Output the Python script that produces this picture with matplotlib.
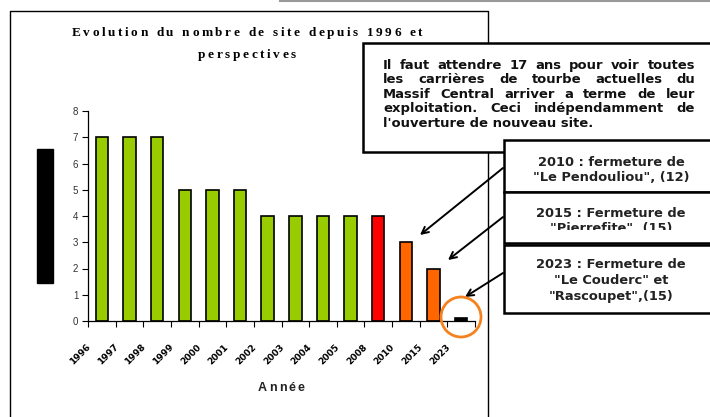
import matplotlib
matplotlib.use('Agg')
import matplotlib.pyplot as plt
from matplotlib.patches import Rectangle, Circle
from matplotlib.transforms import IdentityTransform

# data
years = ['1996', '1997', '1998', '1999', '2000', '2001', '2002',
         '2003', '2004', '2005', '2008', '2010', '2015', '2023']
sites = [7, 7, 7, 5, 5, 5, 4, 4, 4, 4, 4, 3, 2, 0.1]
bar_colors = ['#99cc00'] * 10 + ['#ff0000', '#ff6600', '#ff6600', '#000000']

note = ["Il faut attendre 17 ans pour voir toutes",
        "les carrières de tourbe actuelles du",
        "Massif Central arriver a terme de leur",
        "exploitation. Ceci indépendamment de",
        "l'ouverture de nouveau site."]
closures = [["2010 : fermeture de", "\"Le Pendouliou\", (12)"],
            ["2015 : Fermeture de", "\"Pierrefite\", (15)"],
            ["2023 : Fermeture de", "\"Le Couderc\" et", "\"Rascoupet\",(15)"]]

W, H = 710, 417
fig = plt.figure(figsize=(W / 100, H / 100), dpi=100)
r = fig.canvas.get_renderer()

# overlay in pixel coordinates for frames, notes and arrows
over = fig.add_axes([0, 0, 1, 1], zorder=3)
over.set_xlim(0, W)
over.set_ylim(H, 0)
over.axis('off')


def width_of(s, **kw):
    t = over.text(0, 0, s, **kw)
    w = t.get_window_extent(r).width
    t.remove()
    return w


def spaced(xc, y, s, track, **kw):
    # draw text char by char with extra letter spacing, centred on xc
    ws = []
    for ch in s:
        if ch == ' ':
            ws.append(width_of('a a', **kw) - width_of('aa', **kw))
        else:
            ws.append(width_of(ch, **kw))
    total = sum(ws) + track * (len(s) - 1)
    xx = xc - total / 2
    for ch, w in zip(s, ws):
        if ch != ' ':
            over.text(xx, y, ch, ha='left', va='center', **kw)
        xx += w + track


def fit_size(s, target, **kw):
    return 10 * target / width_of(s, fontsize=10, **kw)


# chart axes
ax = fig.add_axes([88 / W, (H - 321) / H, 387 / W, 210 / H], zorder=2)
ax.set_facecolor('none')
x = list(range(len(years)))
ax.bar(x, sites, width=0.45, color=bar_colors, edgecolor='black', linewidth=1.2)
ax.set_xlim(-0.5, len(years) - 0.5)
ax.set_ylim(0, 8)
ax.set_yticks(range(9))
ax.set_xticks([i - 0.5 for i in range(len(years) + 1)])
ax.set_xticklabels([])
ax.tick_params(axis='y', labelsize=7, labelcolor='#333333', length=4, width=0.8, pad=3)
ax.tick_params(axis='x', length=4, width=0.8)
for lab in ax.get_yticklabels():
    lab.set_fontfamily('Liberation Sans')
for s in ['top', 'right']:
    ax.spines[s].set_visible(False)
for s in ['left', 'bottom']:
    ax.spines[s].set_linewidth(0.9)
for i, yr in enumerate(years):
    ax.text(i - 0.34, -0.82, yr, rotation=45, ha='right', va='top', fontsize=6.5,
            fontweight='bold', family='DejaVu Sans')

# chart frame and top gray line
over.plot([10, 10, 488, 488], [H + 5, 11, 11, H + 5], color='black', lw=1, zorder=1)
over.plot([280, 712], [1, 1], color='#999999', lw=1.5, zorder=1)
over.add_patch(Rectangle((37, 149), 16, 134, color='black', zorder=1))

title_kw = dict(fontsize=9.5, fontweight='bold', family='Liberation Serif')
spaced(247, 33, "Evolution du nombre de site depuis 1996 et", 2.6, **title_kw)
spaced(247, 55, "perspectives", 2.6, **title_kw)
spaced(281, 388, "Année", 2.2, fontsize=9, fontweight='bold', family='Liberation Sans',
       color='#222222')

# main note box, justified text
over.add_patch(Rectangle((363, 43), 360, 109, facecolor='white', edgecolor='black',
                         lw=1.8, zorder=4))
txt_kw = dict(fontweight='bold', family='DejaVu Sans', color='#111111')
txt_kw['fontsize'] = fit_size(note[0], 292, **txt_kw)
x0, x1 = 383, 695
for i, line in enumerate(note):
    y = 65 + i * 14.6
    if i == len(note) - 1:
        over.text(x0, y, line, ha='left', va='center', zorder=5, **txt_kw)
        continue
    words = line.split()
    ts = [over.text(0, y, w, ha='left', va='center', zorder=5, **txt_kw) for w in words]
    widths = [t.get_window_extent(r).width for t in ts]
    gap = (x1 - x0 - sum(widths)) / (len(words) - 1)
    xx = x0
    for t, w in zip(ts, widths):
        t.set_x(xx)
        xx += w + gap

# closure boxes (second one has its text cut by the frame)
box_kw = dict(fontweight='bold', family='DejaVu Sans', color='#222222')
box_kw['fontsize'] = fit_size(closures[0][0], 148, **box_kw)
boxes = [(140, 52, 162, 192), (192, 51, 213, 230), (245, 68, 265, 400)]
for (top, h, ty, clip), lines in zip(boxes, closures):
    over.add_patch(Rectangle((504, top), 220, h, facecolor='white', edgecolor='black',
                             lw=1.8, zorder=6))
    clip_rect = Rectangle((504, H - clip), 220, clip - top, transform=IdentityTransform())
    for j, line in enumerate(lines):
        t = over.text(611, ty + j * 15.8, line, ha='center', va='center', zorder=7,
                      **box_kw)
        t.set_clip_path(clip_rect)
        t.set_clip_on(True)

# arrows
arrows = [((503, 168), (420, 235)), ((503, 217), (448, 260)), ((503, 273), (465, 297))]
for start, end in arrows:
    over.annotate('', xy=end, xytext=start, zorder=8,
                  arrowprops=dict(arrowstyle='->', color='black', lw=1.4,
                                  mutation_scale=12, shrinkA=0, shrinkB=0))

over.add_patch(Circle((461, 317), 20, facecolor='none', edgecolor='#f5821f', lw=2, zorder=8))

fig.savefig('out.png', dpi=100)
